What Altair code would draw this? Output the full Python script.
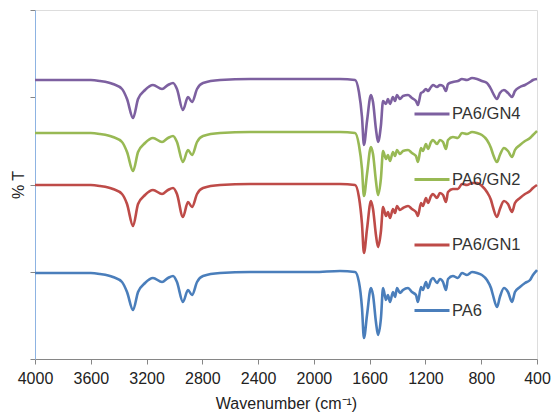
import altair as alt
import pandas as pd

# wavenumber grid (cm-1)
wavenumber = [4000, 3800, 3677, 3600, 3534, 3441, 3376, 3340, 3297, 3261,
              3211, 3154, 3089, 3046, 3010, 2982, 2939, 2903, 2874, 2838,
              2795, 2673, 2458, 2200, 2000, 1813, 1705, 1677, 1655, 1641,
              1619, 1591, 1576, 1555, 1540, 1519, 1504, 1483, 1469, 1454,
              1433, 1418, 1404, 1383, 1361, 1325, 1297, 1268, 1254, 1232,
              1218, 1196, 1182, 1160, 1146, 1117, 1096, 1074, 1053, 1038,
              1003, 967, 938, 902, 866, 830, 795, 759, 730, 716,
              687, 666, 637, 608, 579, 558, 522, 486, 450, 429, 400]

pa6 = [86, 86, 86, 86, 85, 82, 77, 67, 49, 67,
       76, 81, 77, 81, 83, 77, 57, 69, 64, 77,
       83, 86, 87, 87, 87, 88, 87, 77, 51, 21,
       44, 71, 64, 37, 24, 41, 71, 59, 64, 57,
       67, 62, 71, 66, 69, 71, 67, 64, 57, 72,
       69, 77, 71, 79, 81, 76, 80, 77, 69, 80,
       83, 81, 86, 84, 87, 86, 84, 79, 71, 64,
       52, 62, 71, 67, 57, 67, 72, 76, 79, 84, 89]

pa6_gn1 = [174, 174, 174, 174, 173, 170, 165, 155, 133, 155,
           164, 169, 165, 169, 171, 165, 142, 157, 152, 165,
           171, 174, 175, 175, 175, 175, 174, 162, 135, 106,
           130, 158, 150, 124, 112, 128, 152, 143, 147, 141,
           150, 146, 153, 149, 151, 153, 150, 147, 143, 156,
           153, 161, 156, 163, 165, 161, 166, 164, 157, 167,
           170, 170, 175, 174, 176, 176, 173, 167, 159, 152,
           142, 150, 158, 155, 147, 156, 161, 165, 168, 171, 174]

pa6_gn2 = [226, 226, 226, 226, 225, 222, 217, 207, 188, 207,
           216, 221, 217, 221, 223, 217, 197, 209, 204, 217,
           223, 226, 227, 227, 227, 227, 226, 214, 190, 163,
           185, 212, 205, 178, 164, 181, 208, 200, 204, 198,
           207, 203, 209, 205, 208, 209, 206, 203, 197, 211,
           208, 215, 210, 217, 219, 215, 219, 217, 210, 219,
           222, 221, 226, 225, 227, 226, 224, 219, 211, 205,
           197, 204, 211, 208, 202, 209, 214, 218, 221, 224, 228]

pa6_gn4 = [279, 279, 279, 279, 278, 275, 270, 260, 241, 260,
           269, 274, 270, 274, 276, 270, 249, 262, 257, 270,
           276, 279, 280, 280, 280, 280, 279, 267, 242, 214,
           238, 264, 257, 230, 217, 234, 258, 255, 260, 255,
           262, 258, 264, 260, 263, 264, 261, 258, 254, 266,
           267, 270, 268, 272, 274, 272, 274, 273, 268, 275,
           277, 278, 280, 279, 281, 280, 278, 276, 270, 266,
           260, 266, 269, 266, 262, 268, 272, 274, 277, 279, 280]

series_names = ["PA6/GN4", "PA6/GN2", "PA6/GN1", "PA6"]
series_colors = ["#7d60a0", "#98b954", "#be4b48", "#4a7ebb"]
x_ticks = [4000, 3600, 3200, 2800, 2400, 2000, 1600, 1200, 800, 400]

rows = []
for name, vals in zip(series_names, [pa6_gn4, pa6_gn2, pa6_gn1, pa6]):
    for w, v in zip(wavenumber, vals):
        rows.append({"wn": w, "T": v, "series": name})
df = pd.DataFrame(rows)

FONT = "Liberation Sans"

chart = alt.Chart(df).mark_line(strokeWidth=2.6, interpolate="monotone").encode(
    x=alt.X("wn:Q",
            scale=alt.Scale(domain=[400, 4000], reverse=True, nice=False, zero=False),
            axis=alt.Axis(values=x_ticks, format="d", title="Wavenumber (cm\u207b\u00b9)",
                          grid=False, tickSize=5, labelPadding=6,
                          labelFontSize=16, titleFontSize=16, titleFontWeight="normal",
                          labelColor="#222222", titleColor="#222222",
                          domainColor="#868686", tickColor="#868686",
                          labelFont=FONT, titleFont=FONT, titlePadding=9,
                          labelFlush=False)),
    y=alt.Y("T:Q",
            scale=alt.Scale(domain=[0, 349], nice=False, zero=False),
            axis=alt.Axis(values=[0, 87.25, 174.5, 261.75, 349], labels=False,
                          title="% T", grid=False, tickSize=5,
                          titleFontSize=16, titleFontWeight="normal",
                          titleColor="#222222", titleFont=FONT, titlePadding=3,
                          domainColor="#8db3e2", tickColor="#868686")),
    color=alt.Color("series:N",
                    scale=alt.Scale(domain=series_names, range=series_colors),
                    sort=series_names,
                    legend=alt.Legend(orient="none", legendX=378, legendY=85,
                                      title=None, symbolType="stroke",
                                      symbolSize=1225, symbolStrokeWidth=3,
                                      labelFontSize=16.5, labelFont=FONT,
                                      labelColor="#333333", labelOffset=1,
                                      rowPadding=37.5, padding=0)),
).properties(
    width=502, height=349,
    padding={"left": 35, "top": 10, "right": 15, "bottom": 55},
    autosize=alt.AutoSizeParams(type="none"),
).configure_view(
    stroke="#7f7f7f", strokeWidth=1
).configure(background="white")

chart.save("out.html", embed_options={"renderer": "svg", "actions": False})
